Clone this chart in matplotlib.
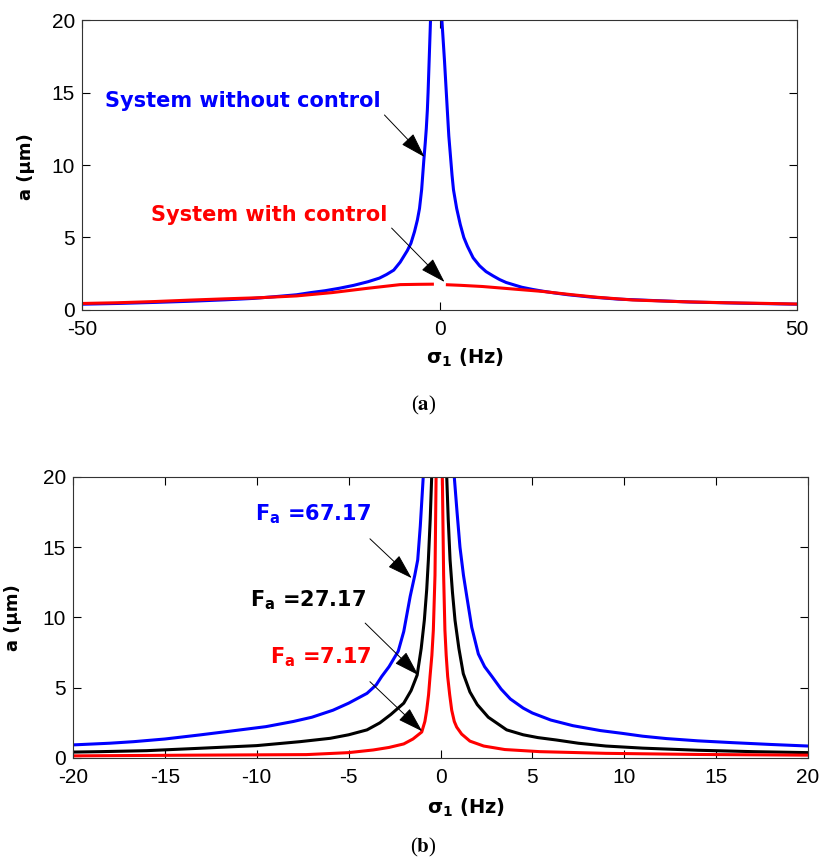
import numpy as np
import matplotlib.pyplot as plt

plt.rcParams['font.family'] = ['DejaVu Sans']
plt.rcParams['axes.unicode_minus'] = False

# ---- (a) with / without control ----
sig_a_nocontrol = [-50, -45, -40, -35, -30, -26, -23, -20, -18, -16, -14, -12, -10, -8.4,
                   -7.4, -6.4, -5.5, -5.0, -4.5, -4.0, -3.5, -3.1, -2.8, -2.5, -2.2, -2.0,
                   -1.85, -1.7, -1.6, -1.45, -1.26, -0.45,
                   0.33, 0.7, 1.1, 1.3, 1.55, 1.75, 1.95, 2.4, 2.9, 3.4, 3.9, 4.7, 5.6,
                   6.5, 7.5, 8.4, 9.3, 10.5, 11.5, 13, 14.4, 16, 18, 21, 25, 30, 35, 42, 50]
amp_a_nocontrol = [0.40, 0.45, 0.52, 0.60, 0.70, 0.80, 0.92, 1.05, 1.2, 1.33, 1.5, 1.7, 1.95,
                   2.2, 2.45, 2.75, 3.3, 3.7, 4.1, 4.6, 5.4, 6.2, 7.0, 8.3, 10.3, 11.5,
                   12.5, 13.8, 15.0, 17.2, 20, 40,
                   20, 17.15, 13.7, 12.0, 10.5, 9.3, 8.3, 7.0, 5.9, 5.0, 4.4, 3.6, 3.05,
                   2.65, 2.35, 2.1, 1.9, 1.72, 1.57, 1.42, 1.3, 1.18, 1.05, 0.9, 0.75, 0.65,
                   0.55, 0.47, 0.40]

sig_a_control = [-50, -45, -40, -35, -30, -25, -20, -15, -10, -5.5, -3, -1.0, 0, 1.1, 3,
                 6, 10.7, 14.4, 18.6, 22, 27, 34, 40, 45, 50]
amp_a_control = [0.45, 0.50, 0.58, 0.68, 0.77, 0.85, 0.97, 1.2, 1.5, 1.75, 1.77, 1.78,
                 np.nan, 1.74, 1.7, 1.62, 1.43, 1.28, 1.05, 0.88, 0.69, 0.57, 0.5, 0.46,
                 0.41]

# ---- (b) three excitation levels ----
sig_b_67 = [-20, -18, -16.7, -15, -13.1, -11.5, -9.5, -8, -7, -5.85, -5, -4.0, -3.5, -3.2,
            -2.8, -2.3, -2.0, -1.65, -1.4, -1.24, -1.1, -0.94, -0.1,
            0.75, 0.9, 1.06, 1.25, 1.43, 1.7, 2.06, 2.4, 2.8, 3.3, 3.8, 4.5, 5.0, 6.0,
            7.2, 8.7, 9.9, 11, 12.3, 14, 15.9, 18, 20]
amp_b_67 = [0.93, 1.05, 1.16, 1.35, 1.64, 1.9, 2.23, 2.6, 2.9, 3.4, 3.9, 4.6, 5.2, 5.8,
            6.5, 7.6, 9.0, 11.5, 13.0, 14.1, 16.5, 20, 40,
            20, 17.5, 15, 13, 11.5, 9.3, 7.4, 6.5, 5.8, 4.9, 4.2, 3.55, 3.2, 2.7,
            2.3, 1.95, 1.75, 1.55, 1.38, 1.22, 1.09, 0.96, 0.85]

sig_b_27 = [-20, -18.5, -16, -13.1, -10, -7.65, -6, -5, -4.0, -3.3, -2.7, -2.0, -1.6,
            -1.27, -1.05, -0.88, -0.75, -0.66, -0.56, -0.48, -0.07,
            0.34, 0.42, 0.52, 0.65, 0.79, 1.0, 1.24, 1.6, 2.0, 2.6, 3.6, 4.5, 5.3, 6.3,
            7.5, 9.0, 11, 14, 17, 20]
amp_b_27 = [0.42, 0.45, 0.52, 0.69, 0.88, 1.16, 1.4, 1.65, 2.0, 2.5, 3.1, 3.9, 4.8,
            5.9, 7.8, 9.8, 12, 14.1, 17, 20, 40,
            20, 17, 14.1, 11.8, 9.8, 7.8, 6.0, 4.7, 3.8, 2.9, 2.0, 1.65, 1.45, 1.28,
            1.05, 0.85, 0.7, 0.55, 0.45, 0.38]

sig_b_7 = [-20, -13.5, -7.3, -5, -3.66, -2.8, -2.0, -1.5, -1.02, -0.85, -0.75, -0.65,
           -0.57, -0.47, -0.39, -0.3, -0.24, -0.05,
           0.1, 0.17, 0.24, 0.31, 0.39, 0.5, 0.61, 0.75, 0.88, 1.15, 1.6, 2.35, 3.5,
           5.4, 9, 14, 20]
amp_b_7 = [0.15, 0.2, 0.24, 0.38, 0.57, 0.75, 1.0, 1.35, 1.85, 2.6, 3.4, 4.5,
           5.8, 7.3, 9.1, 13, 20, 40,
           20, 13, 9.1, 7.3, 5.8, 4.5, 3.4, 2.6, 2.2, 1.7, 1.2, 0.85, 0.6,
           0.45, 0.33, 0.25, 0.2]

yticks = [0, 5, 10, 15, 20]
arrow_style = dict(arrowstyle='-|>,head_length=1.6,head_width=0.5', color='black',
                   lw=0.7, shrinkA=0, shrinkB=0, mutation_scale=10)


def style_axes(ax, xticks, xlabel_pos, ylabel_pos):
    ax.set_xlim(xticks[0], xticks[-1])
    ax.set_ylim(0, 20)
    ax.set_xticks(xticks)
    ax.set_yticks(yticks)
    ax.tick_params(direction='in', top=True, right=True, length=6, width=0.8,
                   labelsize=15)
    ax.tick_params(axis='x', pad=7)
    ax.tick_params(axis='y', pad=5)
    for lbl in ax.get_xticklabels() + ax.get_yticklabels():
        lbl.set_fontfamily('Liberation Sans')
    for s in ax.spines.values():
        s.set_linewidth(0.8)
        s.set_color('#333333')
    ax.set_xlabel(r'$\mathbf{\sigma_1}$ (Hz)', fontsize=14, fontweight='bold')
    ax.set_ylabel('a (μm)', fontsize=13, fontweight='bold')
    ax.xaxis.set_label_coords(*xlabel_pos)
    ax.yaxis.set_label_coords(*ylabel_pos)


fig = plt.figure(figsize=(8.2, 8.63), dpi=100)

# (a)
ax1 = fig.add_axes([0.100, 0.6408, 0.872, 0.336])
ax1.plot(sig_a_nocontrol, amp_a_nocontrol, color='#0000ff', lw=2.2)
ax1.plot(sig_a_control, amp_a_control, color='#ff0000', lw=2.2)
style_axes(ax1, [-50, 0, 50], (0.536, -0.128), (-0.066, 0.493))
ax1.text(-46.8, 13.98, 'System without control', color='#0000ff', fontsize=15,
         fontweight='bold', va='baseline')
ax1.text(-40.3, 6.16, 'System with control', color='#ff0000', fontsize=15,
         fontweight='bold', va='baseline')
ax1.annotate('', xy=(-2.1, 10.55), xytext=(-7.7, 13.45), arrowprops=arrow_style)
ax1.annotate('', xy=(0.7, 1.93), xytext=(-6.7, 5.65), arrowprops=arrow_style)

# (b)
ax2 = fig.add_axes([0.089, 0.1217, 0.8964, 0.3256])
ax2.plot(sig_b_67, amp_b_67, color='#0000ff', lw=2.2)
ax2.plot(sig_b_27, amp_b_27, color='black', lw=2.2)
ax2.plot(sig_b_7, amp_b_7, color='#ff0000', lw=2.2)
style_axes(ax2, [-20, -15, -10, -5, 0, 5, 10, 15, 20], (0.535, -0.139), (-0.069, 0.498))
ax2.text(-10.1, 16.9, r'$\mathbf{F_a}$ =67.17', color='#0000ff', fontsize=15,
         fontweight='bold', va='baseline')
ax2.text(-10.37, 10.77, r'$\mathbf{F_a}$ =27.17', color='black', fontsize=15,
         fontweight='bold', va='baseline')
ax2.text(-9.28, 6.74, r'$\mathbf{F_a}$ =7.17', color='#ff0000', fontsize=15,
         fontweight='bold', va='baseline')
ax2.annotate('', xy=(-1.57, 12.8), xytext=(-3.84, 15.6), arrowprops=arrow_style)
ax2.annotate('', xy=(-1.21, 5.9), xytext=(-4.1, 9.6), arrowprops=arrow_style)
ax2.annotate('', xy=(-1.0, 1.9), xytext=(-3.84, 5.43), arrowprops=arrow_style)

# captions
fig.text(0.517, 0.5307, r'($\mathbf{a}$)', ha='center', va='center', fontsize=15,
         family='Liberation Serif', math_fontfamily='stix')
fig.text(0.516, 0.0174, r'($\mathbf{b}$)', ha='center', va='center', fontsize=15,
         family='Liberation Serif', math_fontfamily='stix')

fig.savefig('out.png', dpi=100)
